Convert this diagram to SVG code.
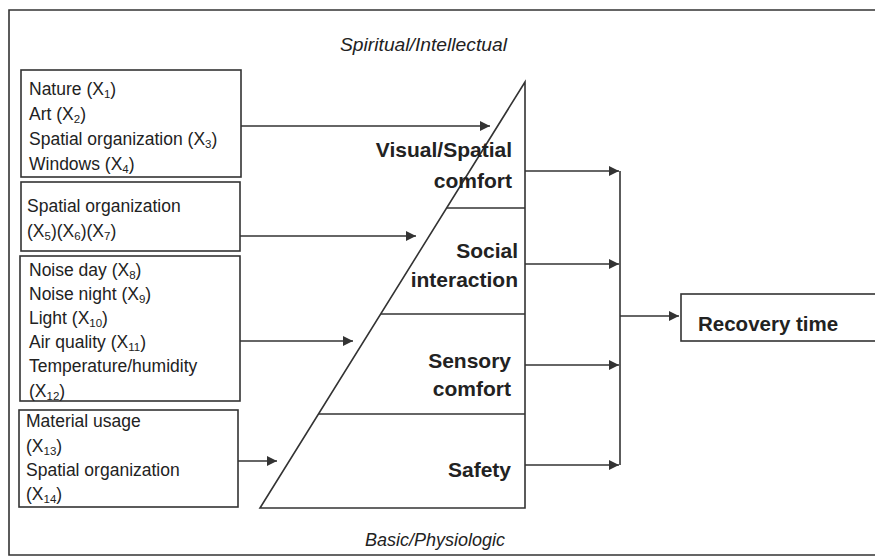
<svg xmlns="http://www.w3.org/2000/svg" width="875" height="558" viewBox="0 0 875 558">
<defs>
<style>
.ln{stroke:#333;stroke-width:1.6;fill:none}
.box{stroke:#333;stroke-width:1.6;fill:#fff}
.t{font-family:"Liberation Sans",Arial,sans-serif;font-size:17.5px;fill:#222}
.b{font-family:"Liberation Sans",Arial,sans-serif;font-size:21px;font-weight:bold;fill:#222;text-anchor:end}
.i{font-family:"Liberation Sans",Arial,sans-serif;font-size:18px;font-style:italic;fill:#222}
.s{font-size:11.5px}
</style>
<marker id="ah" viewBox="0 0 10 10" refX="10" refY="5" markerWidth="10" markerHeight="10" markerUnits="userSpaceOnUse" orient="auto">
<path d="M0,0 L10,5 L0,10 z" fill="#333"/>
</marker>
</defs>
<rect width="875" height="558" fill="#fff"/>
<path id="frame" class="ln" d="M880,10 L9,10 L9,555 L880,555" stroke-width="2"/>
<text class="i" x="340" y="51" textLength="167" lengthAdjust="spacingAndGlyphs">Spiritual/Intellectual</text>
<text class="i" x="365" y="546" textLength="140" lengthAdjust="spacingAndGlyphs">Basic/Physiologic</text>
<g id="box1">
<rect class="box" x="21" y="70" width="220" height="107"/>
<text class="t" x="29" y="95">Nature (X<tspan class="s" dy="3">1</tspan><tspan dy="-3">)</tspan></text>
<text class="t" x="29" y="120">Art (X<tspan class="s" dy="3">2</tspan><tspan dy="-3">)</tspan></text>
<text class="t" x="29" y="145">Spatial organization (X<tspan class="s" dy="3">3</tspan><tspan dy="-3">)</tspan></text>
<text class="t" x="29" y="170">Windows (X<tspan class="s" dy="3">4</tspan><tspan dy="-3">)</tspan></text>
</g>
<g id="box2">
<rect class="box" x="21" y="182" width="219" height="69"/>
<text class="t" x="27" y="212">Spatial organization</text>
<text class="t" x="27" y="237">(X<tspan class="s" dy="3">5</tspan><tspan dy="-3">)(X</tspan><tspan class="s" dy="3">6</tspan><tspan dy="-3">)(X</tspan><tspan class="s" dy="3">7</tspan><tspan dy="-3">)</tspan></text>
</g>
<g id="box3">
<rect class="box" x="20" y="256" width="220" height="145"/>
<text class="t" x="29" y="276">Noise day (X<tspan class="s" dy="3">8</tspan><tspan dy="-3">)</tspan></text>
<text class="t" x="29" y="300">Noise night (X<tspan class="s" dy="3">9</tspan><tspan dy="-3">)</tspan></text>
<text class="t" x="29" y="324">Light (X<tspan class="s" dy="3">10</tspan><tspan dy="-3">)</tspan></text>
<text class="t" x="29" y="348">Air quality (X<tspan class="s" dy="3">11</tspan><tspan dy="-3">)</tspan></text>
<text class="t" x="29" y="372">Temperature/humidity</text>
<text class="t" x="29" y="397">(X<tspan class="s" dy="3">12</tspan><tspan dy="-3">)</tspan></text>
</g>
<g id="box4">
<rect class="box" x="19" y="410" width="219" height="97"/>
<text class="t" x="26" y="427">Material usage</text>
<text class="t" x="26" y="452">(X<tspan class="s" dy="3">13</tspan><tspan dy="-3">)</tspan></text>
<text class="t" x="26" y="476">Spatial organization</text>
<text class="t" x="26" y="500">(X<tspan class="s" dy="3">14</tspan><tspan dy="-3">)</tspan></text>
</g>
<g id="pyramid">
<path class="ln" d="M525,82 L260,508 L525,508 Z"/>
<line class="ln" x1="447" y1="208" x2="525" y2="208"/>
<line class="ln" x1="381" y1="314" x2="525" y2="314"/>
<line class="ln" x1="318" y1="414" x2="525" y2="414"/>
</g>
<g id="visual">
<text class="b" x="512" y="157">Visual/Spatial</text>
<text class="b" x="512" y="188">comfort</text>
</g>
<g id="social">
<text class="b" x="518" y="258">Social</text>
<text class="b" x="518" y="287">interaction</text>
</g>
<g id="sensory">
<text class="b" x="511" y="368">Sensory</text>
<text class="b" x="511" y="396">comfort</text>
</g>
<g id="safety">
<text class="b" x="511" y="477">Safety</text>
</g>
<g id="recovery">
<rect class="box" x="681" y="294" width="200" height="47"/>
<text class="b" x="698" y="331" style="text-anchor:start;font-size:20.5px">Recovery time</text>
</g>
<g id="connectors">
<line class="ln" x1="241" y1="126" x2="490" y2="126" marker-end="url(#ah)"/>
<line class="ln" x1="240" y1="236" x2="416" y2="236" marker-end="url(#ah)"/>
<line class="ln" x1="240" y1="341" x2="353" y2="341" marker-end="url(#ah)"/>
<line class="ln" x1="238" y1="461" x2="277" y2="461" marker-end="url(#ah)"/>
<line class="ln" x1="525" y1="171" x2="619" y2="171" marker-end="url(#ah)"/>
<line class="ln" x1="525" y1="264" x2="619" y2="264" marker-end="url(#ah)"/>
<line class="ln" x1="525" y1="365" x2="619" y2="365" marker-end="url(#ah)"/>
<line class="ln" x1="525" y1="465" x2="619" y2="465" marker-end="url(#ah)"/>
<line class="ln" x1="620" y1="171" x2="620" y2="465"/>
<line class="ln" x1="620" y1="316" x2="679" y2="316" marker-end="url(#ah)"/>
</g>
</svg>
